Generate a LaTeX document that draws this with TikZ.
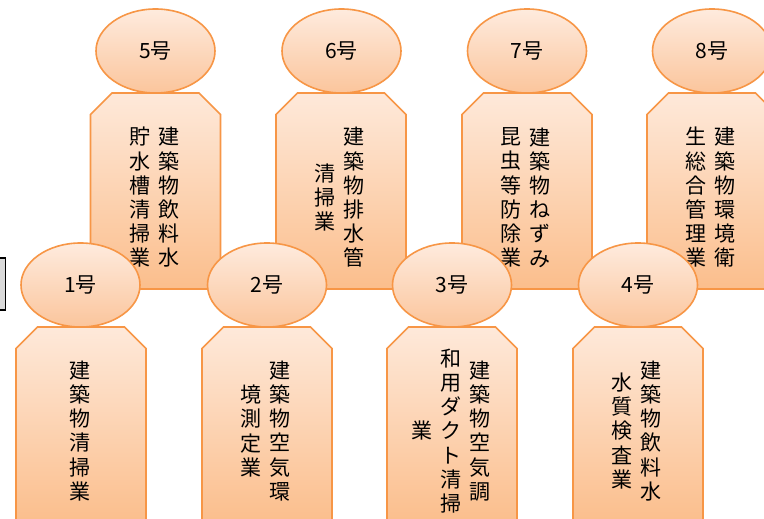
\documentclass[tikz,border=0pt]{standalone}
\usepackage{fontspec}
\newfontfamily\jp{Noto Sans CJK JP}
\usetikzlibrary{shapes.geometric}
\definecolor{ora}{HTML}{F79646}
\definecolor{boxtop}{HTML}{FEE9DA}
\definecolor{boxbot}{HTML}{FBBE8C}
\definecolor{elltop}{HTML}{FEEBDE}
\definecolor{ellbot}{HTML}{FBC59C}
\definecolor{grayfill}{HTML}{D9D9D9}
\tikzset{
  cbox/.style={draw=ora, line width=1.6pt, line join=miter, top color=boxtop, bottom color=boxbot},
  numell/.style={ellipse, draw=ora, line width=1.6pt, top color=elltop, bottom color=ellbot,
    minimum width=119pt, minimum height=84pt, inner sep=0pt, font=\jp\fontsize{21}{24}\selectfont},
  vcol/.style={align=center, inner sep=0pt, font=\jp\fontsize{21}{24.2}\selectfont},
  partbox/.style={draw=black, line width=1.2pt, fill=grayfill}
}
\newcommand\snipbox[3]{% name, center x, top y
  \path[cbox] ({#2-65},{#3+196}) -- ({#2-65},{#3+21.5}) -- ({#2-43.5},{#3}) -- ({#2+43.5},{#3})
    -- ({#2+65},{#3+21.5}) -- ({#2+65},{#3+196}) -- cycle;
  \coordinate (#1) at (#2,{#3+98});}
\begin{document}
\begin{tikzpicture}[x=1pt,y=-1pt]
\clip (0,0) rectangle (764,519);
\fill[white] (0,0) rectangle (764,519);
% top row boxes
\snipbox{b5}{155.5}{93}
\snipbox{b6}{341}{93}
\snipbox{b7}{527}{93}
\snipbox{b8}{712}{93}
\node[vcol] (t5a) at (168.5,197.5) {建\\築\\物\\飲\\料\\水};
\node[vcol] (t5b) at (139.5,197.5) {貯\\水\\槽\\清\\掃\\業};
\node[vcol] (t6a) at (354,197.5) {建\\築\\物\\排\\水\\管};
\node[vcol] (t6b) at (325,197.5) {清\\掃\\業};
\node[vcol] (t7a) at (540,197.5) {建\\築\\物\\ね\\ず\\み};
\node[vcol] (t7b) at (511,197.5) {昆\\虫\\等\\防\\除\\業};
\node[vcol] (t8a) at (725,197.5) {建\\築\\物\\環\\境\\衛};
\node[vcol] (t8b) at (696,197.5) {生\\総\\合\\管\\理\\業};
% top row ellipses
\node[numell] (e5) at (155.5,51) {5号};
\node[numell] (e6) at (341.5,51) {6号};
\node[numell] (e7) at (527,51) {7号};
\node[numell] (e8) at (712,51) {8号};
% partial grey box at left edge
\draw[partbox] (-10,258) rectangle (5.5,310);
\coordinate (gb) at (0,284);
% bottom row ellipses
\node[numell] (e1) at (80.5,285) {1号};
\node[numell] (e2) at (267,285) {2号};
\node[numell] (e3) at (452,285) {3号};
\node[numell] (e4) at (638,285) {4号};
% bottom row boxes
\snipbox{b1}{81}{327}
\snipbox{b2}{267}{327}
\snipbox{b3}{452}{327}
\snipbox{b4}{638}{327}
\node[vcol] (t1a) at (79.5,431) {建\\築\\物\\清\\掃\\業};
\node[vcol] (t2a) at (280,431) {建\\築\\物\\空\\気\\環};
\node[vcol] (t2b) at (251,431) {境\\測\\定\\業};
\node[vcol] (t3a) at (479.5,431) {建\\築\\物\\空\\気\\調};
\node[vcol] (t3b) at (450.5,431) {和\\用\\ダ\\ク\\ト\\清\\掃};
\node[vcol] (t3c) at (421.5,431) {業};
\node[vcol] (t4a) at (651,431) {建\\築\\物\\飲\\料\\水};
\node[vcol] (t4b) at (622,431) {水\\質\\検\\査\\業};
\end{tikzpicture}
\end{document}
